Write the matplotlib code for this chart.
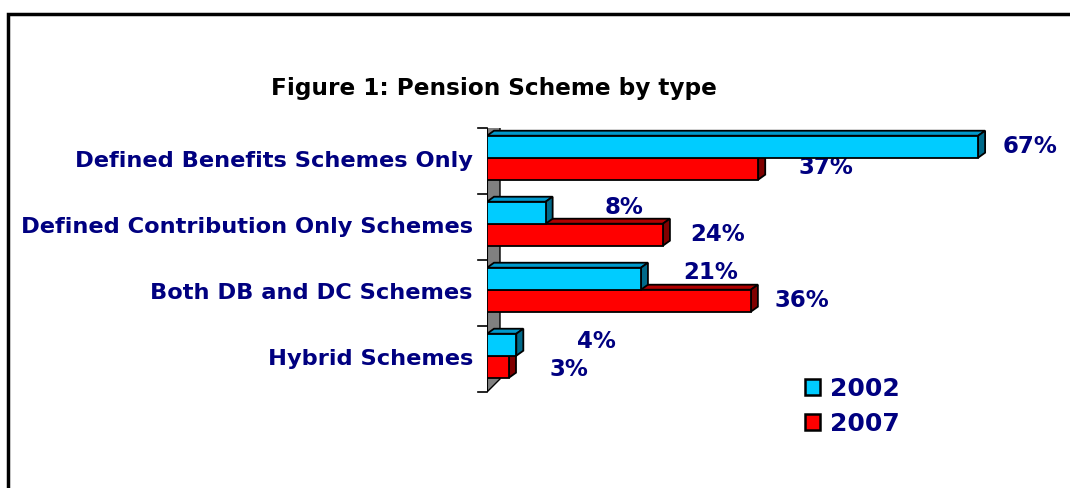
import matplotlib.pyplot as plt
from matplotlib.patches import Polygon, Rectangle, Patch
from matplotlib.lines import Line2D

categories = ["Defined Benefits Schemes Only", "Defined Contribution Only Schemes",
              "Both DB and DC Schemes", "Hybrid Schemes"]
vals_2002 = [67, 8, 21, 4]
vals_2007 = [37, 24, 36, 3]
series = ["2002", "2007"]

# label offsets from the bar end, in pixels (x right, y up)
off_2002 = [(25, 0), (59, 5), (42, 6), (61, 3)]
off_2007 = [(40, 1), (27, 0), (24, 0), (41, -3)]

navy = "#000080"
blue = ("#00CCFF", "#0099CC", "#006A8A")   # front, top, side
red = ("#FF0000", "#B00000", "#800000")

W, H = 1070, 488
fig = plt.figure(figsize=(W / 100, H / 100), dpi=100)
px_per_pct = 7.33
x0, x1 = 487, 1070
ax = fig.add_axes([x0 / W, (H - 392) / H, (x1 - x0) / W, 264 / H])
ax.set_xlim(0, (x1 - x0) / px_per_pct)
ax.set_ylim(3.5, -0.5)
ax.axis("off")

dx = 7 / px_per_pct      # bar depth
dy = 5 / 66.0
bh = 0.333

# gray back wall
wx, wy = 13 / px_per_pct, 13 / 66.0
ax.add_patch(Polygon([(0, -0.5), (wx, -0.5 - wy), (wx, 3.5 - wy), (0, 3.5)],
                     closed=True, fc="#808080", ec="black", lw=1, zorder=1))
ax.add_line(Line2D([0, 0], [-0.5, 3.5], color="black", lw=1.5, zorder=2))
for b in [-0.5, 0.5, 1.5, 2.5, 3.5]:
    ax.add_line(Line2D([-9 / px_per_pct, 0], [b, b], color="black", lw=1.2,
                       zorder=2, clip_on=False))


def bar3d(v, ytop, ybot, cols, z):
    front, top, side = cols
    kw = dict(closed=True, ec="black", lw=1.3, zorder=z, joinstyle="miter")
    ax.add_patch(Polygon([(0, ytop), (v, ytop), (v + dx, ytop - dy), (dx, ytop - dy)], fc=top, **kw))
    ax.add_patch(Polygon([(v, ytop), (v + dx, ytop - dy), (v + dx, ybot - dy), (v, ybot)], fc=side, **kw))
    ax.add_patch(Polygon([(0, ytop), (v, ytop), (v, ybot), (0, ybot)], fc=front, **kw))


for i in range(len(categories)):
    split = i - 0.05
    bar3d(vals_2007[i], split, split + bh, red, 3 + 2 * i)
    bar3d(vals_2002[i], split - bh, split, blue, 4 + 2 * i)
    for v, yc, off in [(vals_2002[i], split - bh / 2, off_2002[i]),
                       (vals_2007[i], split + bh / 2, off_2007[i])]:
        ax.annotate(f"{v}%", (v, yc), xytext=off, textcoords="offset pixels",
                    ha="left", va="center", fontsize=16.5, fontweight="bold",
                    color=navy, annotation_clip=False)
    ax.text(-14 / px_per_pct, i, categories[i], ha="right", va="center",
            fontsize=16.2, fontweight="bold", color=navy)

fig.text(494 / W, 1 - 88 / H, "Figure 1: Pension Scheme by type", ha="center",
         va="center", fontsize=16.7, fontweight="bold", color="black")

handles = [Patch(fc=blue[0], ec="black", lw=1.8), Patch(fc=red[0], ec="black", lw=1.8)]
leg = fig.legend(handles, series, loc="upper left", bbox_to_anchor=(787 / W, 1 - 359 / H),
                 frameon=False, handlelength=0.6, handleheight=0.6, handletextpad=0.4,
                 labelspacing=0.45, borderpad=0.2, prop=dict(size=18, weight="bold"))
for t in leg.get_texts():
    t.set_color(navy)

# outer frame
fig.add_artist(Rectangle((8 / W, -0.1), 1.2, 1 - 14 / H + 0.1, transform=fig.transFigure,
                         fill=False, ec="black", lw=2.5))

fig.savefig("out.png", dpi=100)
